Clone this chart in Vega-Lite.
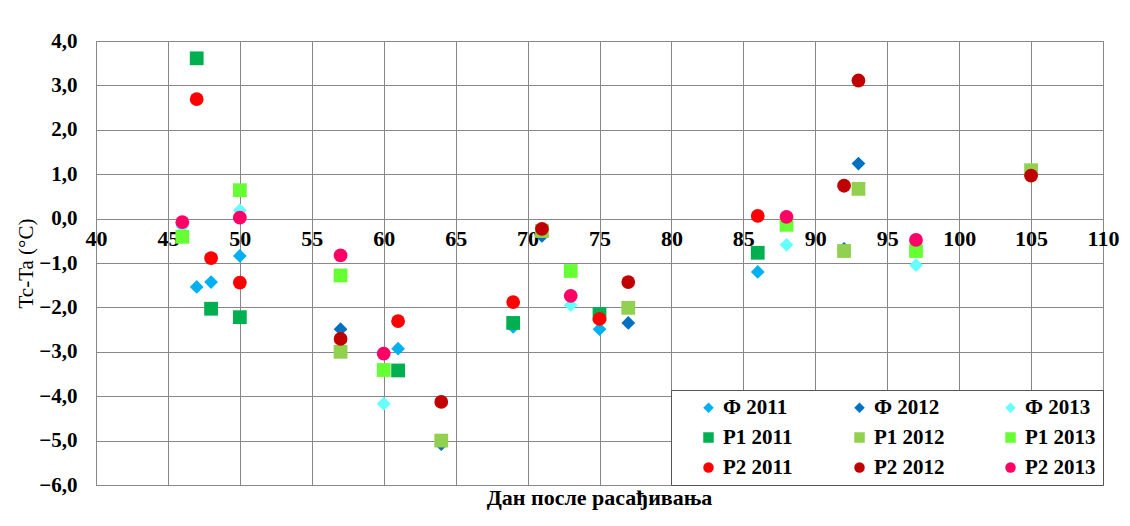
{
  "$schema": "https://vega.github.io/schema/vega-lite/v6.json",
  "width": 1007,
  "height": 444,
  "autosize": {"type": "none"},
  "padding": {"left": 96, "top": 41, "right": 27, "bottom": 41},
  "background": "white",
  "config": {
    "font": "Liberation Serif",
    "view": {"stroke": "#868686", "strokeWidth": 1}
  },
  "title": {
    "text": "Дан после расађивања",
    "orient": "bottom",
    "anchor": "middle",
    "frame": "group",
    "fontSize": 22,
    "fontWeight": "bold",
    "font": "Liberation Serif",
    "color": "black",
    "offset": -7
  },
  "data": {
    "values": [
      {"s": "Ф 2011", "x": 47, "y": -1.54},
      {"s": "Ф 2011", "x": 48, "y": -1.43},
      {"s": "Ф 2011", "x": 50, "y": -0.84},
      {"s": "Ф 2011", "x": 61, "y": -2.93},
      {"s": "Ф 2011", "x": 69, "y": -2.44},
      {"s": "Ф 2011", "x": 75, "y": -2.49},
      {"s": "Ф 2011", "x": 86, "y": -1.2},
      {"s": "Ф 2012", "x": 57, "y": -2.49},
      {"s": "Ф 2012", "x": 64, "y": -5.08},
      {"s": "Ф 2012", "x": 71, "y": -0.39},
      {"s": "Ф 2012", "x": 77, "y": -2.35},
      {"s": "Ф 2012", "x": 92, "y": -0.68},
      {"s": "Ф 2012", "x": 93, "y": 1.24},
      {"s": "Ф 2013", "x": 46, "y": -0.18},
      {"s": "Ф 2013", "x": 50, "y": 0.19},
      {"s": "Ф 2013", "x": 60, "y": -4.17},
      {"s": "Ф 2013", "x": 73, "y": -1.95},
      {"s": "Ф 2013", "x": 88, "y": -0.59},
      {"s": "Ф 2013", "x": 97, "y": -1.05},
      {"s": "P1 2011", "x": 47, "y": 3.61},
      {"s": "P1 2011", "x": 48, "y": -2.03},
      {"s": "P1 2011", "x": 50, "y": -2.22},
      {"s": "P1 2011", "x": 61, "y": -3.42},
      {"s": "P1 2011", "x": 69, "y": -2.35},
      {"s": "P1 2011", "x": 75, "y": -2.15},
      {"s": "P1 2011", "x": 86, "y": -0.77},
      {"s": "P1 2012", "x": 57, "y": -3.0},
      {"s": "P1 2012", "x": 64, "y": -5.0},
      {"s": "P1 2012", "x": 71, "y": -0.28},
      {"s": "P1 2012", "x": 77, "y": -2.01},
      {"s": "P1 2012", "x": 92, "y": -0.73},
      {"s": "P1 2012", "x": 93, "y": 0.67},
      {"s": "P1 2012", "x": 105, "y": 1.09},
      {"s": "P1 2013", "x": 46, "y": -0.41},
      {"s": "P1 2013", "x": 50, "y": 0.64},
      {"s": "P1 2013", "x": 57, "y": -1.28},
      {"s": "P1 2013", "x": 60, "y": -3.41},
      {"s": "P1 2013", "x": 73, "y": -1.18},
      {"s": "P1 2013", "x": 88, "y": -0.14},
      {"s": "P1 2013", "x": 97, "y": -0.73},
      {"s": "P2 2011", "x": 47, "y": 2.69},
      {"s": "P2 2011", "x": 48, "y": -0.89},
      {"s": "P2 2011", "x": 50, "y": -1.44},
      {"s": "P2 2011", "x": 61, "y": -2.31},
      {"s": "P2 2011", "x": 69, "y": -1.88},
      {"s": "P2 2011", "x": 75, "y": -2.26},
      {"s": "P2 2011", "x": 86, "y": 0.06},
      {"s": "P2 2012", "x": 57, "y": -2.71},
      {"s": "P2 2012", "x": 64, "y": -4.13},
      {"s": "P2 2012", "x": 71, "y": -0.23},
      {"s": "P2 2012", "x": 77, "y": -1.43},
      {"s": "P2 2012", "x": 92, "y": 0.74},
      {"s": "P2 2012", "x": 93, "y": 3.11},
      {"s": "P2 2012", "x": 105, "y": 0.97},
      {"s": "P2 2013", "x": 46, "y": -0.08},
      {"s": "P2 2013", "x": 50, "y": 0.02},
      {"s": "P2 2013", "x": 57, "y": -0.83},
      {"s": "P2 2013", "x": 60, "y": -3.04},
      {"s": "P2 2013", "x": 73, "y": -1.74},
      {"s": "P2 2013", "x": 88, "y": 0.04},
      {"s": "P2 2013", "x": 97, "y": -0.48}
    ]
  },
  "mark": {"type": "point", "filled": true, "opacity": 1, "size": 190},
  "encoding": {
    "x": {
      "field": "x",
      "type": "quantitative",
      "scale": {"domain": [40, 110], "nice": false, "zero": false},
      "axis": {
        "title": null,
        "values": [40, 45, 50, 55, 60, 65, 70, 75, 80, 85, 90, 95, 100, 105, 110],
        "offset": -266.4,
        "domain": false,
        "ticks": false,
        "grid": true,
        "gridColor": "#878787",
        "gridWidth": 1,
        "gridOpacity": 1,
        "labelFont": "Liberation Serif",
        "labelFontSize": 22,
        "labelFontWeight": "bold",
        "labelColor": "black",
        "labelPadding": 10,
        "labelFlush": false,
        "labelOverlap": false
      }
    },
    "y": {
      "field": "y",
      "type": "quantitative",
      "scale": {"domain": [-6, 4], "nice": false, "zero": false},
      "axis": {
        "title": "Tc-Ta (°C)",
        "titleFont": "Liberation Serif",
        "titleFontSize": 21,
        "titleFontWeight": "normal",
        "titleColor": "black",
        "titlePadding": 2,
        "values": [-6, -5, -4, -3, -2, -1, 0, 1, 2, 3, 4],
        "labelExpr": "replace(format(datum.value, '.1f'), '.', ',')",
        "domain": false,
        "ticks": false,
        "grid": true,
        "gridColor": "#878787",
        "gridWidth": 1,
        "gridOpacity": 1,
        "labelFont": "Liberation Serif",
        "labelFontSize": 21,
        "labelFontWeight": "bold",
        "labelColor": "black",
        "labelPadding": 19
      }
    },
    "color": {
      "field": "s",
      "type": "nominal",
      "scale": {
        "domain": ["Ф 2011", "Ф 2012", "Ф 2013", "P1 2011", "P1 2012", "P1 2013", "P2 2011", "P2 2012", "P2 2013"],
        "range": ["#00B0F0", "#0070C0", "#66FFFF", "#00B050", "#92D050", "#66FF33", "#FF0000", "#C00000", "#FF0066"]
      },
      "legend": {
        "title": null,
        "orient": "bottom-right",
        "offset": 0,
        "columns": 3,
        "direction": "horizontal",
        "gridAlign": "all",
        "columnPadding": 35,
        "rowPadding": 8,
        "padding": 7,
        "symbolOffset": 20,
        "symbolSize": 110,
        "labelOffset": 4,
        "labelFont": "Liberation Serif",
        "labelFontSize": 21,
        "labelFontWeight": "bold",
        "labelColor": "black",
        "strokeColor": "#555555",
        "fillColor": "white"
      }
    },
    "shape": {
      "field": "s",
      "type": "nominal",
      "scale": {
        "domain": ["Ф 2011", "Ф 2012", "Ф 2013", "P1 2011", "P1 2012", "P1 2013", "P2 2011", "P2 2012", "P2 2013"],
        "range": ["diamond", "diamond", "diamond", "square", "square", "square", "circle", "circle", "circle"]
      }
    }
  }
}
